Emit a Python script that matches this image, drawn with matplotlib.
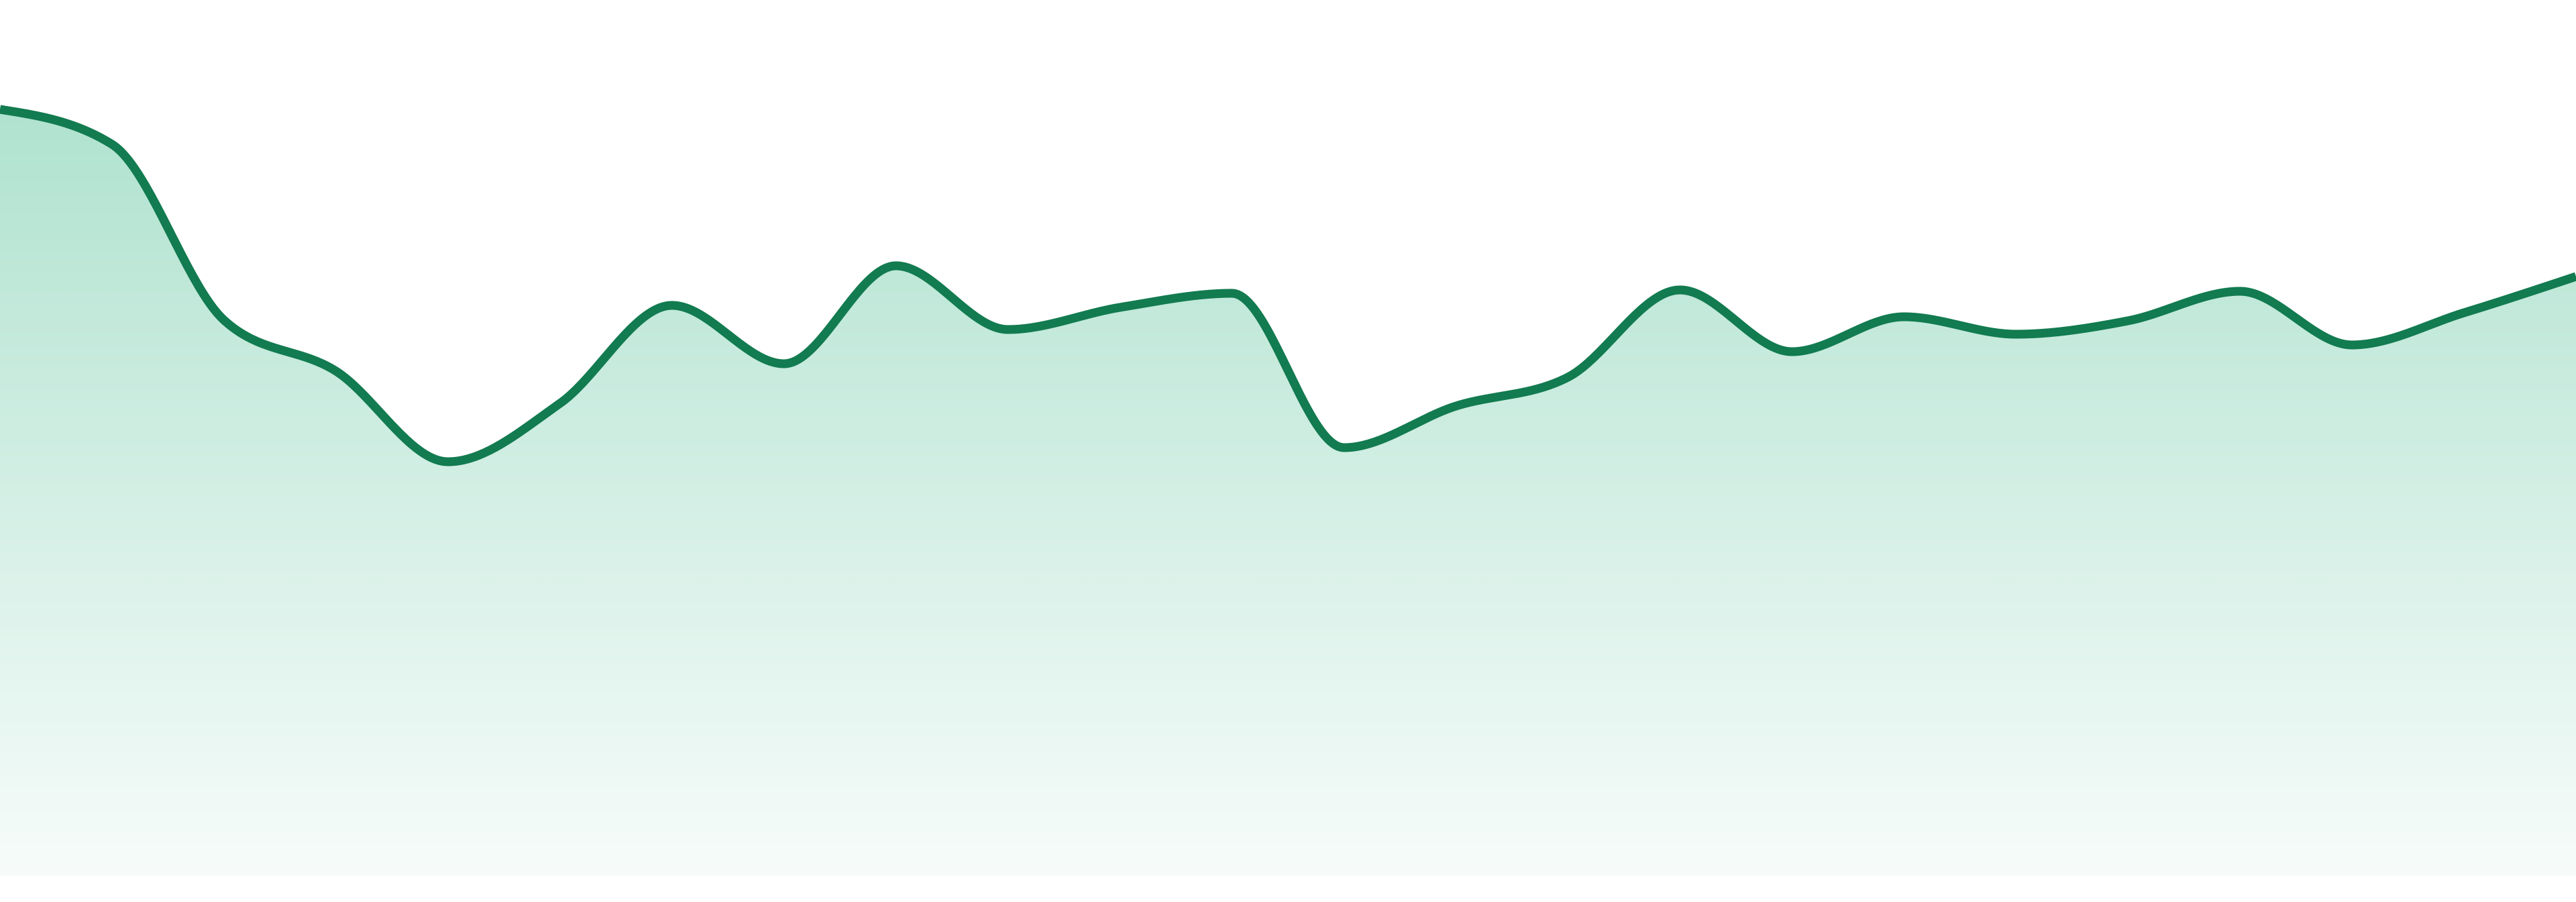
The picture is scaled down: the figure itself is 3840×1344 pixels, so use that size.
import numpy as np
import matplotlib
matplotlib.use('Agg')
import matplotlib.pyplot as plt
from matplotlib.colors import LinearSegmentedColormap

# Series values (24 evenly spaced points)
x_idx = list(range(24))
values = [114.2, 109.0, 82.8, 75.2, 61.7, 70.4, 85.0, 76.3, 90.9, 81.4,
          84.7, 86.8, 63.8, 70.0, 74.3, 87.3, 78.1, 83.3, 80.7, 82.7,
          87.1, 79.1, 83.9, 89.3]
y_max = 130.5

line_color = '#127b50'
fill_top = '#a6dfca'
fill_bottom = '#f7fcfa'


def monotone_x(x, y, n=40):
    # monotone cubic interpolation (same idea as d3 curveMonotoneX)
    x = np.asarray(x, float)
    y = np.asarray(y, float)
    h = np.diff(x)
    s = np.diff(y) / h
    m = np.zeros_like(y)
    for i in range(1, len(y) - 1):
        s0, s1 = s[i - 1], s[i]
        p = (s0 * h[i] + s1 * h[i - 1]) / (h[i - 1] + h[i])
        m[i] = (np.sign(s0) + np.sign(s1)) * min(abs(s0), abs(s1), 0.5 * abs(p))
    m[0] = (3 * s[0] - m[1]) / 2
    m[-1] = (3 * s[-1] - m[-2]) / 2
    xs, ys = [], []
    for i in range(len(x) - 1):
        t = np.linspace(0, 1, n, endpoint=False)
        h00 = 2 * t**3 - 3 * t**2 + 1
        h10 = t**3 - 2 * t**2 + t
        h01 = -2 * t**3 + 3 * t**2
        h11 = t**3 - t**2
        xs.append(x[i] + t * h[i])
        ys.append(h00 * y[i] + h10 * h[i] * m[i] + h01 * y[i + 1] + h11 * h[i] * m[i + 1])
    xs.append([x[-1]])
    ys.append([y[-1]])
    return np.concatenate(xs), np.concatenate(ys)


xs, ys = monotone_x(x_idx, values)

fig = plt.figure(figsize=(38.4, 13.44), dpi=100)
ax = fig.add_axes([0, 39 / 1344, 1, 1305 / 1344])
ax.set_xlim(x_idx[0], x_idx[-1])
ax.set_ylim(0, y_max)
ax.axis('off')

# gradient fill under the curve
cmap = LinearSegmentedColormap.from_list('g', [fill_bottom, fill_top])
grad = np.linspace(0, 1, 512).reshape(-1, 1)
img = ax.imshow(grad, cmap=cmap, origin='lower', aspect='auto',
                extent=[x_idx[0], x_idx[-1], 0, y_max], zorder=1)
poly = ax.fill_between(xs, ys, 0, color='none', lw=0)
clip = poly.get_paths()[0]
img.set_clip_path(clip, transform=ax.transData)

ax.plot(xs, ys, color=line_color, lw=9.4, solid_capstyle='butt',
        solid_joinstyle='round', zorder=3)

fig.savefig('out.png', dpi=100)
